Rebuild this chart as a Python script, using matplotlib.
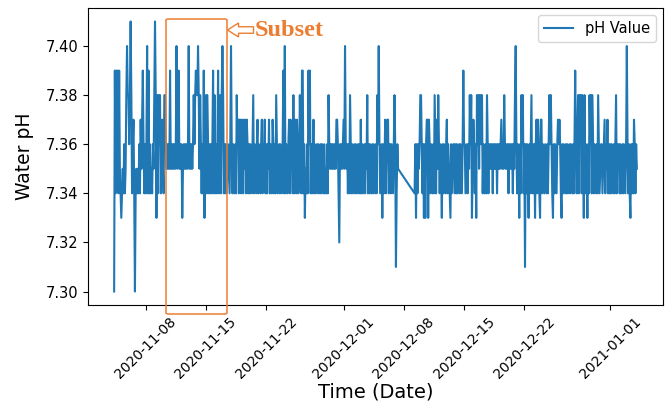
"""Water pH time series with the highlighted subset window."""

from __future__ import annotations

import matplotlib

matplotlib.use("Agg")
import matplotlib.dates as mdates
import pandas as pd
from matplotlib import pyplot as plt
from matplotlib.patches import FancyArrow, FancyBboxPatch
from matplotlib.ticker import FormatStrFormatter

# Readings every 2 hours. Each code is hundredths of a pH unit above 7.30 (hex).
PH_BASE = 7.30
SAMPLE_FREQ = "2h"

SEGMENT_A_START = "2020-11-04 08:00"
SEGMENT_A_DAYS = [
    "0 9 4 9 5 9 4 9",
    "5 4 3 4 5 4 6 4 5 8 a 8",
    "8 6 8 b 8 4 6 7 4 0 4 5",
    "4 5 4 6 4 7 5 7 9 6 4 6",
    "4 6 a 4 9 4 6 4 5 4 6 5",
    "8 b 8 3 8 4 8 6 8 4 6 7",
    "5 4 8 8 6 5 6 5 6 5 9 5",
    "6 5 6 5 6 5 6 a 5 6 9 5",
    "6 5 6 3 5 6 5 6 5 6 5 6",
    "a 5 6 5 6 5 6 8 6 8 9 8",
    "8 a 8 5 8 6 4 6 4 9 3 6",
    "8 4 8 6 4 6 4 6 4 6 9 4",
    "8 4 6 4 6 9 4 6 8 4 8 a",
    "8 4 6 4 6 4 5 6 5 4 6 a",
    "6 4 6 5 4 6 4 8 6 7 4 7",
    "7 4 7 6 4 7 5 7 4 7 6 4",
    "6 4 6 5 4 6 8 4 6 5 4 6",
    "7 4 6 5 4 6 7 4 6 5 7 4",
    "6 4 6 5 7 4 6 5 4 7 6 4",
    "6 4 8 6 4 5 6 4 6 5 4 6",
    "9 4 a 4 6 5 4 6 7 4 7 5",
    "6 4 8 4 6 7 4 7 6 4 5 8",
    "6 4 9 9 4 6 3 5 4 6 4 9",
    "6 9 4 6 4 5 7 4 6 4 5 6",
    "4 6 5 4 6 4 6 5 4 6 4 5",
    "4 6 4 8 6 5 6 5 6 5 6 5",
    "6 5 7 7 6 4 2 6 5 6 5 6",
    "7 5 a 6 5 6 4 6 4 8 6 4",
    "6 4 5 6 4 6 4 5 6 4 6 4",
    "7 4 6 4 5 6 4 6 5 8 4 6",
    "4 6 5 4 6 4 6 5 4 6 4 8",
    "6 a 6 4 5 6 3 6 4 5 7 4",
    "6 7 7 4 6 6 4 6 5 4 6 8",
    "6 1 4 6 5",
]

SEGMENT_B_START = "2020-12-09 06:00"
SEGMENT_B_DAYS = [
    "4 6 3 6 4 6 5 6 8",
    "8 6 4 6 3 6 3 6 7 7 3 7",
    "6 4 6 5 4 6 4 8 6 4 7 5",
    "8 6 4 6 5 3 6 4 6 5 4 6",
    "7 4 6 5 4 3 6 4 5 6 6 4",
    "6 4 6 4 5 6 4 6 5 4 6 9",
    "6 6 4 5 6 4 6 5 8 6 8 3",
    "5 7 6 4 6 3 8 6 8 5 8 8",
    "6 8 4 6 5 4 6 4 8 6 4 6",
    "5 6 5 6 4 6 5 6 5 6 4 6",
    "5 6 5 6 7 5 6 5 8 6 5 6",
    "5 6 4 6 5 6 5 6 4 6 5 8",
    "a 6 4 6 5 3 6 4 8 6 8 4",
    "6 1 6 4 6 5 3 6 4 6 8 4",
    "6 4 6 3 6 7 4 7 6 4 3 7",
    "7 4 6 5 4 6 5 4 6 4 6 8",
    "6 8 6 4 3 6 4 6 5 4 6 7",
    "6 7 6 4 3 6 4 6 5 4 6 4",
    "6 4 5 6 4 6 5 4 6 4 6 9",
    "6 4 6 8 4 8 6 8 4 8 6 3",
    "8 4 6 5 3 6 4 8 6 8 4 8",
    "6 4 6 5 4 6 4 8 6 4 5 6",
    "6 4 5 6 7 4 6 5 7 4 6 4",
    "6 4 6 5 4 6 4 6 8 4 6 5",
    "6 4 6 4 5 6 4 6 5 4 6 a",
    "6 4 6 4 3 6 4 6 4 7 6 4",
    "6 5",
]

Y_TICKS = [7.30, 7.32, 7.34, 7.36, 7.38, 7.40]
TICK_MONTHDAYS = [1, 8, 15, 22]
SUBSET_LABEL = "Subset"
SUBSET_COLOR = "#ED7D31"


def _decode_segment(start: str, days: list[str]) -> pd.Series:
    """Turn the per-day code strings into a timestamped pH series."""
    codes = " ".join(days).split()
    values = [PH_BASE + int(c, 16) / 100 for c in codes]
    index = pd.date_range(start, periods=len(values), freq=SAMPLE_FREQ)
    return pd.Series(values, index=index)


def _px(x: float, y: float) -> tuple[float, float]:
    """Figure pixel position -> axes fraction (axes spans 88..663, 8..305)."""
    return (x - 88) / 575, (305 - y) / 297


def _add_subset_marker(ax: plt.Axes) -> None:
    """Orange rounded box, hollow arrow and 'Subset' label."""
    x0, y0 = _px(166, 314)
    x1, y1 = _px(227, 19)
    box = FancyBboxPatch(
        (x0, y0), x1 - x0, y1 - y0,
        boxstyle="round,pad=0,rounding_size=0.004",
        transform=ax.transAxes, fill=False,
        edgecolor=SUBSET_COLOR, linewidth=1.1, clip_on=False, zorder=5,
    )
    ax.add_patch(box)

    tx, ty = _px(253.5, 30)
    hx, _ = _px(227.5, 30)
    arrow = FancyArrow(
        tx, ty, hx - tx, 0,
        width=6.5 / 297, head_width=14 / 297, head_length=11 / 575,
        length_includes_head=True, transform=ax.transAxes,
        facecolor="white", edgecolor=SUBSET_COLOR, linewidth=1.0,
        clip_on=False, zorder=5,
    )
    ax.add_patch(arrow)

    lx, ly = _px(255, 30)
    ax.text(
        lx, ly, SUBSET_LABEL, transform=ax.transAxes,
        fontsize=17.5, fontweight="bold", family="Liberation Serif",
        color=SUBSET_COLOR, ha="left", va="center", zorder=6,
    )


def main() -> None:
    series = pd.concat([
        _decode_segment(SEGMENT_A_START, SEGMENT_A_DAYS),
        _decode_segment(SEGMENT_B_START, SEGMENT_B_DAYS),
    ])

    fig = plt.figure(figsize=(6.7, 4.05), dpi=100)
    ax = fig.add_axes([88 / 670, 1 - 305 / 405, 575 / 670, 297 / 405])

    ax.plot(series.index, series.values, color="#1f77b4",
            linewidth=1.5, label="pH Value")

    ax.set_yticks(Y_TICKS)
    ax.yaxis.set_major_formatter(FormatStrFormatter("%.2f"))
    ax.xaxis.set_major_locator(mdates.DayLocator(bymonthday=TICK_MONTHDAYS))
    ax.xaxis.set_major_formatter(mdates.DateFormatter("%Y-%m-%d"))
    ax.tick_params(axis="y", labelsize=10.5)
    ax.tick_params(axis="x", labelsize=10)
    plt.setp(ax.get_xticklabels(), rotation=45)

    ax.set_xlabel("Time (Date)", fontsize=14)
    ax.xaxis.set_label_coords(0.5, -0.262)
    ax.set_ylabel("Water pH", fontsize=13.5, labelpad=8)
    ax.legend(loc="upper right", fontsize=10.5)

    _add_subset_marker(ax)

    fig.savefig("out.png", dpi=100)
    plt.close(fig)


if __name__ == "__main__":
    main()
